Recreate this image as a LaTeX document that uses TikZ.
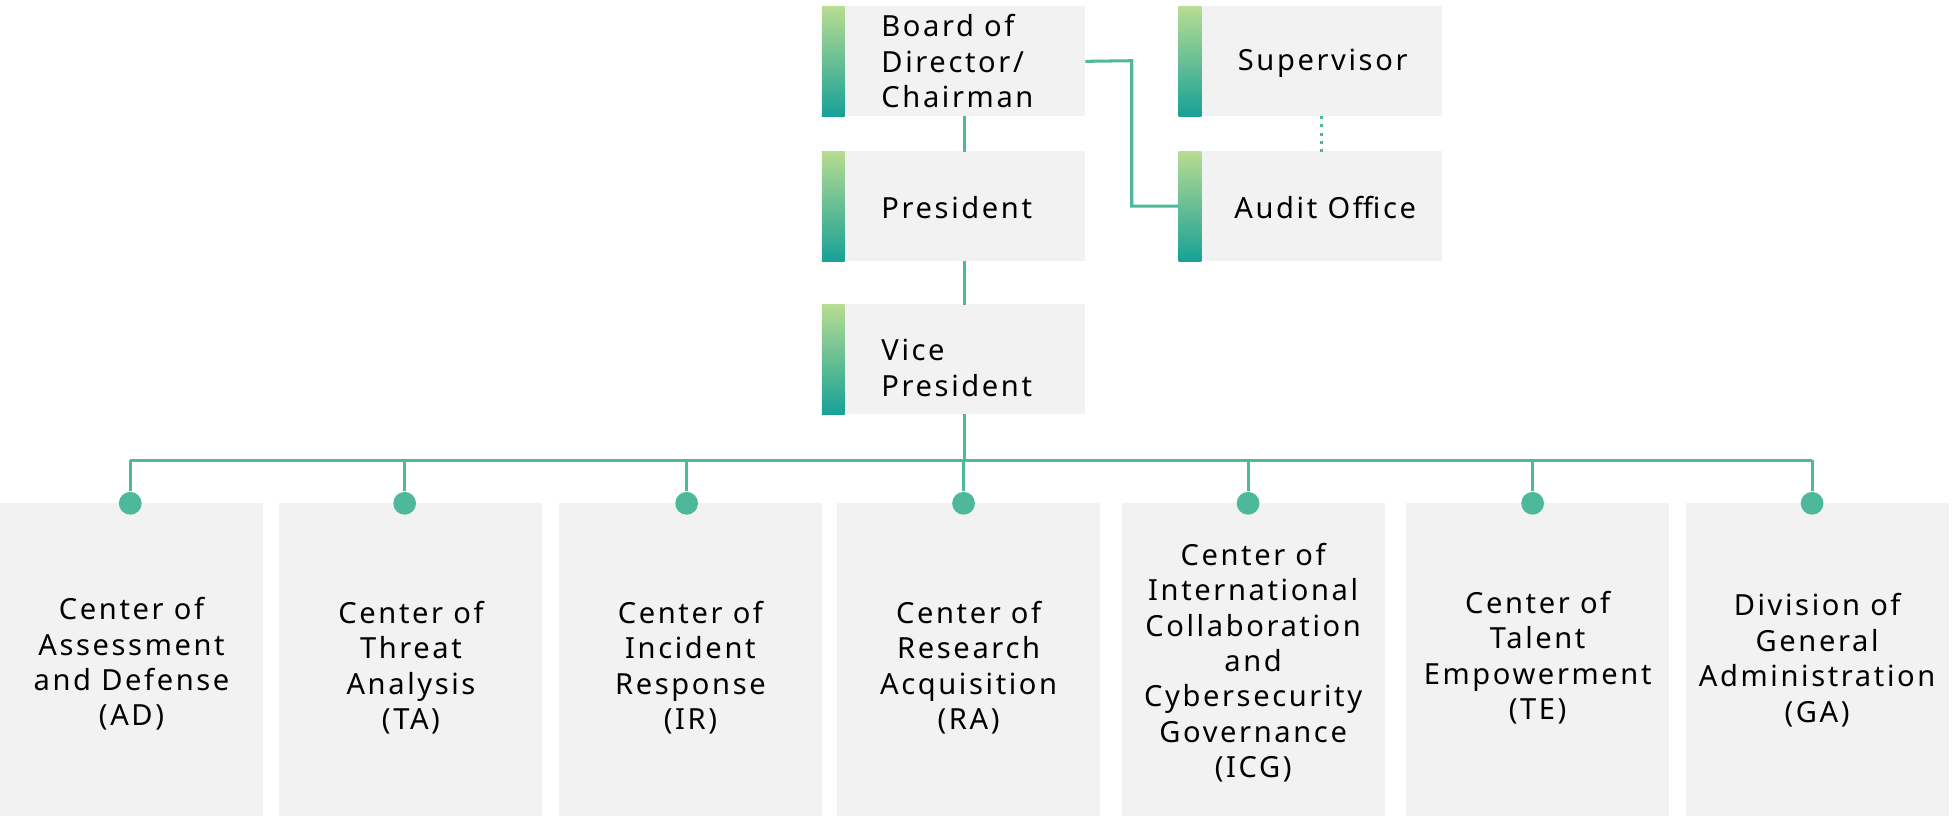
\documentclass[tikz,border=0pt]{standalone}
\usepackage{fontspec}
\setmainfont[LetterSpace=9]{Noto Sans}
\definecolor{boxgray}{HTML}{F2F2F2}
\definecolor{linkgreen}{HTML}{4DB89A}
\definecolor{bartop}{HTML}{B8DC92}
\definecolor{barbot}{HTML}{17A197}
\begin{document}
\begin{tikzpicture}[
  x=0.5pt, y=-0.5pt,
  font=\bfseries\fontsize{11.5}{14}\selectfont,
  unit_box/.style={rectangle, fill=boxgray, minimum width=104pt, minimum height=43.5pt, inner sep=0pt,
    path picture={\shade[top color=bartop, bottom color=barbot]
      (path picture bounding box.north west) rectangle ([xshift=9pt]path picture bounding box.south west);}},
  dept_box/.style={rectangle, fill=boxgray, minimum width=104pt, minimum height=127pt, inner sep=0pt, align=center},
  link/.style={draw=linkgreen, line width=1.2pt},
  dot/.style={circle, fill=linkgreen, minimum size=9pt, inner sep=0pt},
]
\useasboundingbox (0,0) rectangle (1550,645);
% top units
\node (BD) [unit_box] at (754,48.5) {};
\node [anchor=west, align=left] at (690,48.5) {Board of\\Director/\\Chairman};
\node (SV) [unit_box] at (1036,48.5) {};
\node at (1046,50) {Supervisor};
\node (PR) [unit_box] at (754,163) {};
\node [anchor=west] at (690,164) {President};
\node (AO) [unit_box] at (1036,163) {};
\node at (1048,164) {Audit Office};
\node (VP) [unit_box] at (754,284) {};
\node [anchor=west, align=left] at (690,291) {Vice\\President};
% links between top units
\draw [link] (763,92) -- (763,120);
\draw [link] (763,206) -- (763,241);
\draw [link] (BD.east) -- (895,48) -- (895,163) -- (AO.west);
\draw [link, dotted] (1045,92) -- (1045,120);
\draw [link] (763,327) -- (763,364);
\draw [link] (103,364) -- (1433,364);
% departments
\foreach \name/\cx/\dx/\txt/\ty in {
  AD/104/103/{Center of\\Assessment\\and Defense\\(AD)}/525,
  TA/325/320/{Center of\\Threat\\Analysis\\(TA)}/528,
  IR/546/543/{Center of\\Incident\\Response\\(IR)}/528,
  RA/766/762/{Center of\\Research\\Acquisition\\(RA)}/528,
  ICG/991/987/{Center of\\International\\Collaboration\\and\\Cybersecurity\\Governance\\(ICG)}/524,
  TE/1216/1212/{Center of\\Talent\\Empowerment\\(TE)}/520,
  GA/1437/1433/{Division of\\General\\Administration\\(GA)}/522} {
  \node (\name) [dept_box] at (\cx,525) {};
  \node [align=center] at (\cx,\ty) {\txt};
  \node (\name dot) [dot] at (\dx,398) {};
  \draw [link] (\dx,364) -- (\name dot);
}
\end{tikzpicture}
\end{document}
